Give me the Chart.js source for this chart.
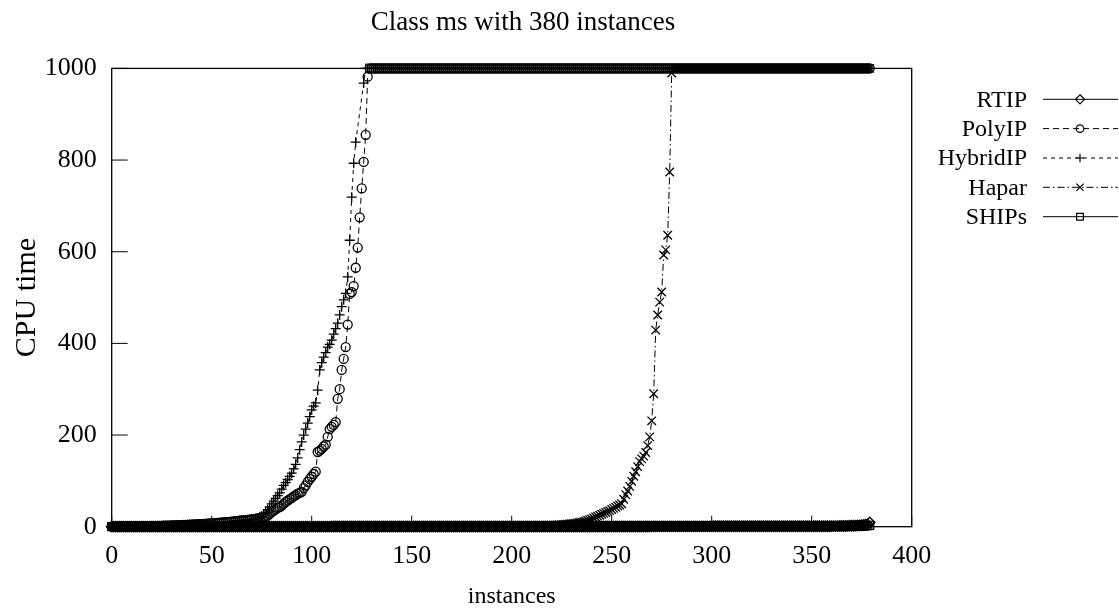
<!DOCTYPE html>
<html><head><meta charset="utf-8">
<script src="https://cdn.jsdelivr.net/npm/chart.js@4"></script>
<style>html,body{margin:0;padding:0;background:#fff}#wrap{width:1119px;height:609px}</style>
</head><body><div id="wrap"><canvas id="c" width="1119" height="609"></canvas></div>
<script>
const TITLE = 'Class ms with 380 instances';
const X_LABEL = 'instances';
const Y_LABEL = 'CPU time';
const SERIES_NAMES = ['RTIP', 'PolyIP', 'HybridIP', 'Hapar', 'SHIPs'];
const X_MIN = 0, X_MAX = 400, X_STEP = 50;
const Y_MIN = 0, Y_MAX = 1000, Y_STEP = 200;

const rtip = [
0.1,0.1,0.1,0.1,0.1,0.1,0.1,0.1,0.1,0.1,0.1,0.1,0.1,0.1,0.1,0.1,0.1,0.1,0.1,0.1,
0.1,0.1,0.1,0.1,0.1,0.1,0.1,0.1,0.1,0.1,0.1,0.1,0.1,0.1,0.1,0.1,0.1,0.1,0.1,0.1,
0.1,0.1,0.1,0.1,0.1,0.1,0.1,0.1,0.1,0.1,0.2,0.2,0.2,0.2,0.2,0.2,0.2,0.2,0.2,0.2,
0.2,0.2,0.2,0.2,0.2,0.2,0.2,0.2,0.2,0.2,0.2,0.2,0.2,0.2,0.2,0.2,0.2,0.2,0.2,0.2,
0.2,0.2,0.2,0.2,0.2,0.2,0.2,0.2,0.2,0.2,0.2,0.2,0.2,0.2,0.2,0.2,0.2,0.2,0.2,0.2,
0.2,0.2,0.2,0.2,0.2,0.2,0.2,0.2,0.2,0.2,0.3,0.3,0.3,0.3,0.3,0.3,0.3,0.3,0.3,0.3,
0.3,0.3,0.3,0.3,0.3,0.3,0.3,0.3,0.3,0.3,0.3,0.3,0.3,0.3,0.3,0.3,0.3,0.3,0.3,0.3,
0.3,0.3,0.3,0.3,0.3,0.3,0.3,0.3,0.3,0.3,0.3,0.3,0.3,0.3,0.3,0.3,0.3,0.3,0.3,0.3,
0.4,0.4,0.4,0.4,0.4,0.4,0.4,0.4,0.4,0.4,0.4,0.4,0.4,0.4,0.4,0.4,0.4,0.4,0.4,0.4,
0.4,0.4,0.4,0.4,0.4,0.4,0.4,0.4,0.4,0.4,0.4,0.4,0.4,0.4,0.4,0.4,0.4,0.4,0.4,0.4,
0.5,0.5,0.5,0.5,0.5,0.5,0.5,0.5,0.5,0.5,0.5,0.5,0.5,0.5,0.5,0.5,0.5,0.5,0.5,0.5,
0.5,0.5,0.5,0.5,0.5,0.5,0.5,0.5,0.5,0.5,0.5,0.5,0.5,0.5,0.5,0.5,0.5,0.5,0.5,0.5,
0.6,0.6,0.6,0.6,0.6,0.6,0.6,0.6,0.6,0.6,0.6,0.6,0.6,0.6,0.6,0.6,0.6,0.6,0.6,0.6,
0.6,0.6,0.6,0.6,0.6,0.6,0.6,0.6,0.6,0.6,0.7,0.7,0.7,0.7,0.7,0.7,0.7,0.7,0.7,0.7,
0.7,0.7,0.7,0.7,0.7,0.7,0.7,0.7,0.7,0.7,0.7,0.7,0.7,0.7,0.7,0.7,0.7,0.7,0.7,0.7,
0.8,0.8,0.8,0.8,0.8,0.8,0.8,0.8,0.8,0.8,0.8,0.8,0.8,0.8,0.8,0.8,0.8,0.8,0.8,0.8,
0.9,0.9,0.9,0.9,0.9,0.9,0.9,0.9,0.9,0.9,0.9,0.9,0.9,0.9,0.9,0.9,0.9,0.9,0.9,0.9,
1,1,1,1,1,1,1,1,1,1,1.1,1.1,1.1,1.1,1.1,1.1,1.1,1.1,1.1,1.1,
1.2,1.2,1.3,1.3,1.4,1.5,1.6,1.7,1.8,1.9,2,2.2,2.4,2.6,2.9,3.2,3.6,4.1,5,9
];

const polyip = [
0.2,0.3,0.3,0.4,0.4,0.5,0.5,0.6,0.6,0.7,
0.7,0.8,0.8,0.9,1,1,1.1,1.2,1.3,1.4,
1.5,1.6,1.7,1.8,1.9,2,2.1,2.2,2.4,2.5,
2.7,2.8,3,3.2,3.4,3.5,3.7,3.9,4.1,4.3,
4.5,4.8,5,5.3,5.5,5.8,6,6.3,6.6,7,
7.3,7.6,8,8.3,8.7,9,9.4,9.8,10.2,10.6,
11,11.5,12,12.5,13,13.5,14,14.5,15,15.5,
16,16.5,17,18,19,20,21,22,24,28,
32,35,38,41,43,46,50,54,57,60,
63,66,69,72,74,76,84,90,98,104,
109,115,120,163,166,170,175,179,196,213,
218,222,228,279,300,342,366,392,441,508,
512,525,565,609,675,738,796,855,982,
1000,1000,1000,1000,1000,1000,1000,1000,1000,1000,
1000,1000,1000,1000,1000,1000,1000,1000,1000,1000,
1000,1000,1000,1000,1000,1000,1000,1000,1000,1000,
1000,1000,1000,1000,1000,1000,1000,1000,1000,1000,
1000,1000,1000,1000,1000,1000,1000,1000,1000,1000,
1000,1000,1000,1000,1000,1000,1000,1000,1000,1000,
1000,1000,1000,1000,1000,1000,1000,1000,1000,1000,
1000,1000,1000,1000,1000,1000,1000,1000,1000,1000,
1000,1000,1000,1000,1000,1000,1000,1000,1000,1000,
1000,1000,1000,1000,1000,1000,1000,1000,1000,1000,
1000,1000,1000,1000,1000,1000,1000,1000,1000,1000,
1000,1000,1000,1000,1000,1000,1000,1000,1000,1000,
1000,1000,1000,1000,1000,1000,1000,1000,1000,1000,
1000,1000,1000,1000,1000,1000,1000,1000,1000,1000,
1000,1000,1000,1000,1000,1000,1000,1000,1000,1000,
1000,1000,1000,1000,1000,1000,1000,1000,1000,1000,
1000,1000,1000,1000,1000,1000,1000,1000,1000,1000,
1000,1000,1000,1000,1000,1000,1000,1000,1000,1000,
1000,1000,1000,1000,1000,1000,1000,1000,1000,1000,
1000,1000,1000,1000,1000,1000,1000,1000,1000,1000,
1000,1000,1000,1000,1000,1000,1000,1000,1000,1000,
1000,1000,1000,1000,1000,1000,1000,1000,1000,1000,
1000,1000,1000,1000,1000,1000,1000,1000,1000,1000,
1000,1000,1000,1000,1000,1000,1000,1000,1000,1000,
1000,1000,1000,1000,1000,1000,1000,1000,1000,1000,
1000
];

const hybridip = [
0.1,0.2,0.2,0.3,0.3,0.4,0.4,0.5,0.5,0.6,
0.6,0.7,0.7,0.8,0.9,0.9,1,1.1,1.2,1.3,
1.4,1.5,1.6,1.7,1.8,1.9,2,2.1,2.3,2.4,
2.6,2.7,2.9,3.1,3.3,3.4,3.6,3.8,4,4.2,
4.4,4.7,4.9,5.2,5.4,5.7,5.9,6.2,6.5,6.9,
7.2,7.5,7.9,8.2,8.6,8.9,9.3,9.7,10.1,10.5,
10.9,11.4,11.9,12.4,12.9,13.4,13.9,14.4,14.9,15.4,
16,17,18,19,21,23,27,31,37,43,
50,56,62,68,74,82,90,96,103,110,
117,126,136,150,168,185,200,213,226,240,
255,263,270,298,342,358,370,380,392,398,
407,420,432,444,462,480,495,509,545,625,
719,793,839,null,null,null,968,
1000,1000,1000,1000,1000,1000,1000,1000,1000,1000,
1000,1000,1000,1000,1000,1000,1000,1000,1000,1000,
1000,1000,1000,1000,1000,1000,1000,1000,1000,1000,
1000,1000,1000,1000,1000,1000,1000,1000,1000,1000,
1000,1000,1000,1000,1000,1000,1000,1000,1000,1000,
1000,1000,1000,1000,1000,1000,1000,1000,1000,1000,
1000,1000,1000,1000,1000,1000,1000,1000,1000,1000,
1000,1000,1000,1000,1000,1000,1000,1000,1000,1000,
1000,1000,1000,1000,1000,1000,1000,1000,1000,1000,
1000,1000,1000,1000,1000,1000,1000,1000,1000,1000,
1000,1000,1000,1000,1000,1000,1000,1000,1000,1000,
1000,1000,1000,1000,1000,1000,1000,1000,1000,1000,
1000,1000,1000,1000,1000,1000,1000,1000,1000,1000,
1000,1000,1000,1000,1000,1000,1000,1000,1000,1000,
1000,1000,1000,1000,1000,1000,1000,1000,1000,1000,
1000,1000,1000,1000,1000,1000,1000,1000,1000,1000,
1000,1000,1000,1000,1000,1000,1000,1000,1000,1000,
1000,1000,1000,1000,1000,1000,1000,1000,1000,1000,
1000,1000,1000,1000,1000,1000,1000,1000,1000,1000,
1000,1000,1000,1000,1000,1000,1000,1000,1000,1000,
1000,1000,1000,1000,1000,1000,1000,1000,1000,1000,
1000,1000,1000,1000,1000,1000,1000,1000,1000,1000,
1000,1000,1000,1000,1000,1000,1000,1000,1000,1000,
1000,1000,1000,1000,1000,1000,1000,1000,1000,1000,
1000,1000,1000,1000,1000,1000,1000,1000,1000,1000,
1000,1000,1000
];

const hapar = [
0.1,0.1,0.1,0.1,0.1,0.1,0.1,0.1,0.1,0.1,0.1,0.1,0.1,0.1,0.1,0.1,0.1,0.1,0.1,0.1,
0.1,0.1,0.1,0.1,0.1,0.1,0.1,0.1,0.1,0.1,0.1,0.1,0.1,0.1,0.1,0.1,0.1,0.1,0.1,0.1,
0.2,0.2,0.2,0.2,0.2,0.2,0.2,0.2,0.2,0.2,0.2,0.2,0.2,0.2,0.2,0.2,0.2,0.2,0.2,0.2,
0.2,0.2,0.2,0.2,0.2,0.2,0.2,0.2,0.2,0.2,0.2,0.2,0.2,0.2,0.2,0.2,0.2,0.2,0.2,0.2,
0.3,0.3,0.3,0.3,0.3,0.3,0.3,0.3,0.3,0.3,0.3,0.3,0.3,0.3,0.3,0.3,0.3,0.3,0.3,0.3,
0.3,0.3,0.3,0.3,0.3,0.3,0.3,0.3,0.3,0.3,0.3,0.3,0.3,0.3,0.3,0.3,0.3,0.3,0.3,0.3,
0.4,0.4,0.4,0.4,0.4,0.4,0.4,0.4,0.4,0.4,0.4,0.4,0.4,0.4,0.4,0.4,0.4,0.4,0.4,0.4,
0.5,0.5,0.5,0.5,0.5,0.5,0.5,0.5,0.5,0.5,0.5,0.5,0.5,0.5,0.5,0.5,0.5,0.5,0.5,0.5,
0.6,0.6,0.6,0.6,0.6,0.6,0.6,0.6,0.6,0.6,0.6,0.6,0.6,0.6,0.6,0.6,0.6,0.6,0.6,0.6,
0.8,0.8,0.8,0.8,0.8,0.8,0.8,0.8,0.8,0.8,0.8,0.8,0.8,0.8,0.8,0.8,0.8,0.8,0.8,0.8,
0.9,1,1,1.1,1.1,1.2,1.2,1.3,1.3,1.4,1.4,1.5,1.5,1.6,1.6,
1.7,1.9,2.1,2.3,2.5,2.7,2.9,3.2,3.6,4,
4.4,4.8,5.2,5.7,6.2,6.7,7.2,7.8,8.4,9.2,
10,11,12.5,14,15.5,17,19,21,23,25,
27,29,31,33,35,37.5,40,42.5,45,47.5,
50,60,70,78,88,99,110,120,131,142,
148,154,162,177,196,231,290,
429,462,490,512,593,604,636,774,990,
1000,1000,1000,1000,1000,1000,1000,1000,1000,1000,
1000,1000,1000,1000,1000,1000,1000,1000,1000,1000,
1000,1000,1000,1000,1000,1000,1000,1000,1000,1000,
1000,1000,1000,1000,1000,1000,1000,1000,1000,1000,
1000,1000,1000,1000,1000,1000,1000,1000,1000,1000,
1000,1000,1000,1000,1000,1000,1000,1000,1000,1000,
1000,1000,1000,1000,1000,1000,1000,1000,1000,1000,
1000,1000,1000,1000,1000,1000,1000,1000,1000,1000,
1000,1000,1000,1000,1000,1000,1000,1000,1000,1000,
1000,1000,1000,1000,1000,1000,1000,1000,1000
];

const ships = [
0.2,0.2,0.2,0.2,0.2,0.2,0.2,0.2,0.2,0.2,0.2,0.2,0.2,0.2,0.2,0.2,0.2,0.2,0.2,0.2,
0.2,0.2,0.2,0.2,0.2,0.2,0.2,0.2,0.2,0.2,0.2,0.2,0.2,0.2,0.2,0.2,0.2,0.2,0.2,0.2,
0.2,0.2,0.2,0.2,0.2,0.2,0.2,0.2,0.2,0.2,0.2,0.2,0.2,0.2,0.2,0.2,0.2,0.2,0.2,0.2,
0.2,0.2,0.2,0.2,0.2,0.2,0.2,0.2,0.2,0.2,0.2,0.2,0.2,0.2,0.2,0.2,0.2,0.2,0.2,0.2,
0.3,0.3,0.3,0.3,0.3,0.3,0.3,0.3,0.3,0.3,0.3,0.3,0.3,0.3,0.3,0.3,0.3,0.3,0.3,0.3,
0.3,0.3,0.3,0.3,0.3,0.3,0.3,0.3,0.3,0.3,0.3,0.3,0.3,0.3,0.3,0.3,0.3,0.3,0.3,0.3,
0.3,0.3,0.3,0.3,0.3,0.3,0.3,0.3,0.3,0.3,0.3,0.3,0.3,0.3,0.3,0.3,0.3,0.3,0.3,0.3,
0.3,0.3,0.3,0.3,0.3,0.3,0.3,0.3,0.3,0.3,0.3,0.3,0.3,0.3,0.3,0.3,0.3,0.3,0.3,0.3,
0.4,0.4,0.4,0.4,0.4,0.4,0.4,0.4,0.4,0.4,0.4,0.4,0.4,0.4,0.4,0.4,0.4,0.4,0.4,0.4,
0.4,0.4,0.4,0.4,0.4,0.4,0.4,0.4,0.4,0.4,0.4,0.4,0.4,0.4,0.4,0.4,0.4,0.4,0.4,0.4,
0.4,0.4,0.4,0.4,0.4,0.4,0.4,0.4,0.4,0.4,0.4,0.4,0.4,0.4,0.4,0.4,0.4,0.4,0.4,0.4,
0.4,0.4,0.4,0.4,0.4,0.4,0.4,0.4,0.4,0.4,0.4,0.4,0.4,0.4,0.4,0.4,0.4,0.4,0.4,0.4,
0.5,0.5,0.5,0.5,0.5,0.5,0.5,0.5,0.5,0.5,0.5,0.5,0.5,0.5,0.5,0.5,0.5,0.5,0.5,0.5,
0.5,0.5,0.5,0.5,0.5,0.5,0.5,0.5,0.5,0.5,0.5,0.5,0.5,0.5,0.5,0.5,0.5,0.5,0.5,0.5,
0.5,0.5,0.5,0.5,0.5,0.5,0.5,0.5,0.5,0.5,0.5,0.5,0.5,0.5,0.5,0.5,0.5,0.5,0.5,0.5,
0.5,0.5,0.5,0.5,0.5,0.5,0.5,0.5,0.5,0.5,0.5,0.5,0.5,0.5,0.5,0.5,0.5,0.5,0.5,0.5,
0.6,0.6,0.6,0.6,0.6,0.6,0.6,0.6,0.6,0.6,0.6,0.6,0.6,0.6,0.6,0.6,0.6,0.6,0.6,0.6,
0.6,0.6,0.6,0.6,0.6,0.6,0.6,0.6,0.6,0.6,0.6,0.6,0.6,0.6,0.6,0.6,0.6,0.6,0.6,0.6,
0.7,0.7,0.7,0.7,0.7,0.7,0.7,0.7,0.7,0.7,0.8,0.9,1,1.1,1.2,1.4,1.6,1.9,2.3,3
];

const SERIES_VALUES = [rtip, polyip, hybridip, hapar, ships];
const POINT_STYLES = ['rectRot', 'circle', 'cross', 'crossRot', 'rect'];
const POINT_RADII = [5.3, 4.5, 5, 6, 5.6];
const DASHES = [[], [6, 4], [4, 4], [7, 3, 1.5, 3], []];

const FONT = "'Liberation Serif', 'Times New Roman', serif";

function drawMarker(ctx, style, x, y, r) {
  ctx.beginPath();
  if (style === 'circle') {
    ctx.arc(x, y, r, 0, Math.PI * 2);
  } else if (style === 'rectRot') {
    ctx.moveTo(x, y - r); ctx.lineTo(x + r, y); ctx.lineTo(x, y + r); ctx.lineTo(x - r, y); ctx.closePath();
  } else if (style === 'cross') {
    ctx.moveTo(x - r, y); ctx.lineTo(x + r, y); ctx.moveTo(x, y - r); ctx.lineTo(x, y + r);
  } else if (style === 'crossRot') {
    const d = r * Math.SQRT1_2;
    ctx.moveTo(x - d, y - d); ctx.lineTo(x + d, y + d); ctx.moveTo(x - d, y + d); ctx.lineTo(x + d, y - d);
  } else if (style === 'rect') {
    const d = r * Math.SQRT1_2;
    ctx.rect(x - d, y - d, 2 * d, 2 * d);
  }
  ctx.stroke();
}

const framePlugin = {
  id: 'frame',
  afterDraw(chart) {
    const {ctx, chartArea: a, scales} = chart;
    ctx.save();
    ctx.strokeStyle = '#000';
    ctx.lineWidth = 1.3;
    ctx.setLineDash([]);
    ctx.strokeRect(a.left, a.top, a.right - a.left, a.bottom - a.top);
    ctx.lineWidth = 1;
    ctx.beginPath();
    scales.y.ticks.forEach(t => {
      const py = scales.y.getPixelForValue(t.value);
      ctx.moveTo(a.left, py); ctx.lineTo(a.left + 16, py);
    });
    scales.x.ticks.forEach(t => {
      const px = scales.x.getPixelForValue(t.value);
      ctx.moveTo(px, a.bottom); ctx.lineTo(px, a.bottom - 11);
    });
    ctx.stroke();
    ctx.fillStyle = '#000';
    ctx.font = "27px " + FONT;
    ctx.textAlign = 'center';
    ctx.textBaseline = 'middle';
    ctx.fillText(TITLE, 523, 23);
    ctx.font = "24px " + FONT;
    ctx.textAlign = 'right';
    const rows = [99.3, 128.6, 158, 187.3, 216.7];
    chart.data.datasets.forEach((ds, i) => {
      const y = rows[i];
      ctx.fillStyle = '#000';
      ctx.fillText(ds.label, 1027, y + 1);
      ctx.strokeStyle = '#000';
      ctx.lineWidth = 1;
      ctx.setLineDash(ds.borderDash || []);
      ctx.beginPath(); ctx.moveTo(1043, y); ctx.lineTo(1118, y); ctx.stroke();
      ctx.setLineDash([]);
      ctx.lineWidth = 1.2;
      drawMarker(ctx, ds.pointStyle, 1080, y, ds.pointRadius * 0.85);
    });
    ctx.restore();
  }
};

const datasets = SERIES_NAMES.map((name, k) => ({
  label: name,
  data: SERIES_VALUES[k].map((v, i) => ({x: i, y: v})),
  borderColor: '#000',
  backgroundColor: 'rgba(0,0,0,0)',
  borderWidth: 1,
  borderDash: DASHES[k],
  pointStyle: POINT_STYLES[k],
  pointRadius: POINT_RADII[k],
  pointBorderWidth: 1.3,
  pointBorderColor: '#000',
  pointBackgroundColor: 'rgba(0,0,0,0)',
  tension: 0,
  spanGaps: true,
  clip: false
}));

new Chart(document.getElementById('c'), {
  type: 'line',
  data: {datasets},
  plugins: [framePlugin],
  options: {
    responsive: false,
    devicePixelRatio: 1,
    animation: false,
    events: [],
    layout: {padding: {top: 68.4, right: 207.3, left: 0, bottom: 0}},
    plugins: {legend: {display: false}, title: {display: false}, tooltip: {enabled: false}},
    scales: {
      x: {
        type: 'linear', min: X_MIN, max: X_MAX,
        ticks: {stepSize: X_STEP, color: '#000', font: {family: FONT, size: 26}, padding: 14, maxRotation: 0,
                callback: v => String(v)},
        grid: {display: false, drawTicks: false},
        border: {display: false},
        title: {display: true, text: X_LABEL, color: '#000', font: {family: FONT, size: 24, lineHeight: 1}, padding: {top: 0, bottom: 0}},
        afterFit(s) { s.height = 82.3; }
      },
      y: {
        type: 'linear', min: Y_MIN, max: Y_MAX,
        ticks: {stepSize: Y_STEP, color: '#000', font: {family: FONT, size: 26}, padding: 15,
                callback: v => String(v)},
        grid: {display: false, drawTicks: false},
        border: {display: false},
        title: {display: true, text: Y_LABEL, color: '#000', font: {family: FONT, size: 30, lineHeight: 1.2}, padding: {top: 9, bottom: 0}},
        afterFit(s) { s.width = 111.7; }
      }
    }
  }
});
</script>
</body></html>
